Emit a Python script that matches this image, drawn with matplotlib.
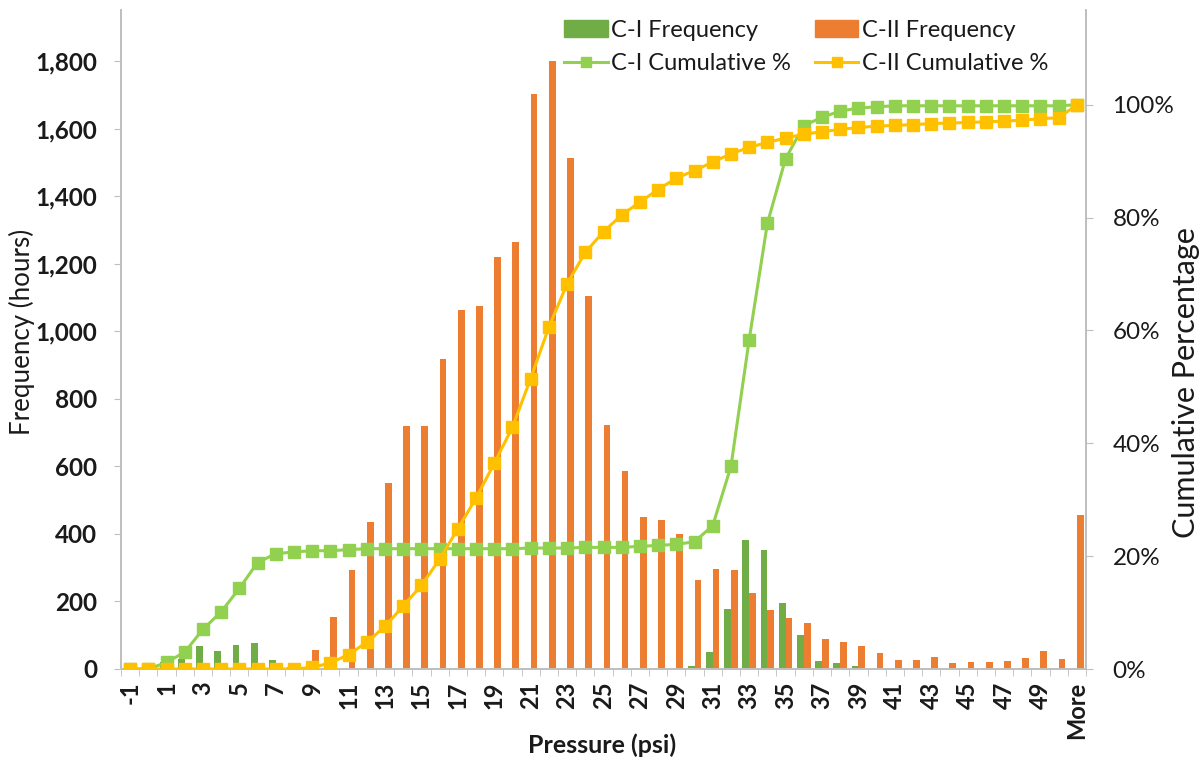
import numpy as np
import matplotlib
matplotlib.use("Agg")
import matplotlib.pyplot as plt
from matplotlib.patches import Patch
from matplotlib.lines import Line2D
from matplotlib.ticker import FuncFormatter, FixedLocator

plt.rcParams['font.family'] = ['Lato', 'DejaVu Sans']

# Pressure bins (psi)
bins = [str(v) for v in range(-1, 51)] + ["More"]

# Hours in each pressure bin
c1_freq = [0, 0, 20, 31, 69, 53, 71, 78, 27, 5,
           4, 0, 3, 3, 0, 0, 0, 0, 0, 0,
           0, 0, 2, 0, 0, 2, 0, 0, 3, 3,
           3, 8, 49, 179, 383, 352, 196, 100, 25, 19,
           9, 4, 3, 0, 0, 0, 0, 0, 0, 0,
           0, 0, 3]
c2_freq = [0, 0, 0, 0, 0, 0, 0, 0, 0, 0,
           56, 155, 293, 435, 550, 718, 718, 918, 1062, 1075,
           1220, 1265, 1702, 1800, 1512, 1105, 722, 585, 450, 441,
           401, 263, 295, 292, 224, 174, 152, 135, 88, 79,
           69, 46, 27, 27, 36, 18, 22, 22, 24, 33,
           54, 30, 455]

c1_cum = np.cumsum(c1_freq) / np.sum(c1_freq)
c2_cum = np.cumsum(c2_freq) / np.sum(c2_freq)

GREEN_BAR = "#70AD47"
ORANGE_BAR = "#ED7D31"
GREEN_LINE = "#92D050"
GOLD_LINE = "#FFC000"
SPINE = "#BFBFBF"
TEXT = "#1A1A1A"

W, H = 1201, 758
fig = plt.figure(figsize=(W / 100, H / 100), dpi=100)
ax = fig.add_axes([121 / W, 1 - 669 / H, (1086 - 121) / W, (669 - 10) / H])
ax2 = ax.twinx()

x = np.arange(len(bins))
w = 0.37
ax.bar(x - w / 2, c1_freq, width=w, color=GREEN_BAR, zorder=2)
ax.bar(x + w / 2, c2_freq, width=w, color=ORANGE_BAR, zorder=2)

ax2.plot(x, c1_cum, color=GREEN_LINE, lw=2.2, marker="s", ms=8.5, zorder=3)
ax2.plot(x, c2_cum, color=GOLD_LINE, lw=2.2, marker="s", ms=8.5, zorder=4)

ax.set_xlim(-0.5, len(bins) - 0.5)
ax.set_ylim(0, 1951)
ax2.set_ylim(0, 1.168)

# left axis
ax.set_yticks(np.arange(0, 1801, 200))
ax.yaxis.set_major_formatter(FuncFormatter(lambda v, p: f"{int(v):,}"))
for lbl in ax.get_yticklabels():
    lbl.set_fontweight("bold")
ax.tick_params(axis="y", labelsize=17.5, length=5, color=SPINE, pad=12,
               labelcolor=TEXT)

# right axis
ax2.set_yticks(np.arange(0, 1.01, 0.2))
ax2.yaxis.set_major_formatter(FuncFormatter(lambda v, p: f"{v*100:.0f}%"))
ax2.tick_params(axis="y", labelsize=17.5, length=5, color=SPINE, pad=14,
                labelcolor=TEXT)

# x axis: labels on every other bin, tick marks on bin edges
lab_idx = list(range(0, len(bins), 2))
ax.xaxis.set_major_locator(FixedLocator(lab_idx))
ax.set_xticklabels([bins[i] for i in lab_idx], rotation=90, fontsize=17,
                   fontweight="bold", color=TEXT)
ax.xaxis.set_minor_locator(FixedLocator(np.arange(-0.5, len(bins), 1.0)))
ax.tick_params(axis="x", which="major", length=0, pad=9)
ax.tick_params(axis="x", which="minor", length=5, color=SPINE)

for a in (ax, ax2):
    a.spines["top"].set_visible(False)
    for s in ("left", "right", "bottom"):
        a.spines[s].set_color(SPINE)
        a.spines[s].set_linewidth(1.3)

fig.text(602 / W, 1 - 745 / H, "Pressure (psi)", fontsize=18, fontweight="bold",
         ha="center", va="center", color=TEXT)
fig.text(22 / W, 1 - 332 / H, "Frequency (hours)", fontsize=18.6, rotation=90,
         ha="center", va="center", color=TEXT)
fig.text(1186 / W, 1 - 383 / H, "Cumulative Percentage", fontsize=22,
         rotation=90, ha="center", va="center", color=TEXT)

handles = [
    Patch(color=GREEN_BAR),
    Line2D([], [], color=GREEN_LINE, lw=2.2, marker="s", ms=7),
    Patch(color=ORANGE_BAR),
    Line2D([], [], color=GOLD_LINE, lw=2.2, marker="s", ms=7),
]
labels = ["C-I Frequency", "C-I Cumulative %", "C-II Frequency", "C-II Cumulative %"]
leg = fig.legend(handles, labels, ncol=2, loc="upper left",
                 bbox_to_anchor=(564 / W, 1 - 20 / H), frameon=False,
                 fontsize=17, handlelength=1.85, handleheight=0.7,
                 handletextpad=0.15, columnspacing=1.0, labelspacing=0.5,
                 borderaxespad=0, borderpad=0)
for t in leg.get_texts():
    t.set_color(TEXT)

fig.savefig("out.png", dpi=100)
